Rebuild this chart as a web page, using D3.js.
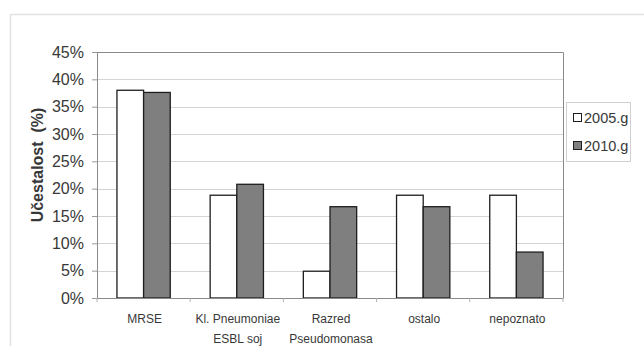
<!DOCTYPE html>
<html><head><meta charset="utf-8">
<script src="https://cdn.jsdelivr.net/npm/d3@7"></script>
<style>body{margin:0;background:#fff}svg{display:block}</style>
</head><body>
<script>
const categories = [["MRSE"], ["Kl. Pneumoniae", "ESBL soj"], ["Razred", "Pseudomonasa"], ["ostalo"], ["nepoznato"]];
const series = ["2005.g", "2010.g"];
const values2005 = [38.0, 18.8, 4.9, 18.8, 18.8];
const values2010 = [37.6, 20.8, 16.7, 16.7, 8.4];
const yTicks = [0, 5, 10, 15, 20, 25, 30, 35, 40, 45];
const colors = ["#ffffff", "#7f7f7f"];

const W = 644, H = 346;
const m = {left: 97, top: 52, right: 563, bottom: 298};
const svg = d3.select("body").append("svg").attr("width", W).attr("height", H);
const font = "'Liberation Sans', Arial, sans-serif";

// outer chart border
svg.append("rect").attr("x", 10.5).attr("y", 14.5).attr("width", 640).attr("height", 340)
  .attr("fill", "none").attr("stroke", "#e2e2e2").attr("stroke-width", 1.5);

const x = d3.scaleBand().domain(d3.range(categories.length)).range([m.left, m.right]).paddingInner(0).paddingOuter(0);
const y = d3.scaleLinear().domain([0, 45]).range([m.bottom, m.top]);
const groupW = x.bandwidth() * 0.572;
const x1 = d3.scaleBand().domain(d3.range(series.length)).range([0, groupW]);

// gridlines
svg.append("g").selectAll("line").data(yTicks.slice(1)).join("line")
  .attr("x1", m.left).attr("x2", m.right)
  .attr("y1", d => Math.round(y(d)) + 0.5).attr("y2", d => Math.round(y(d)) + 0.5)
  .attr("stroke", "#d4d4d4").attr("stroke-width", 1);

// y axis
const yAxis = d3.axisLeft(y).tickValues(yTicks).tickFormat(d => d + "%").tickSize(5).tickPadding(8);
const gy = svg.append("g").attr("transform", `translate(${m.left},0)`).call(yAxis);
gy.select(".domain").attr("stroke", "#8a8a8a");
gy.selectAll(".tick line").attr("stroke", "#9a9a9a");
gy.selectAll("text").attr("font-family", font).attr("font-size", 16).attr("fill", "#383838");

// plot frame (top and right)
svg.append("path").attr("d", `M${m.left},${m.top + 0.5}H${m.right + 0.5}V${m.bottom}`)
  .attr("fill", "none").attr("stroke", "#8a8a8a");

// bars
const data = categories.map((c, i) => [values2005[i], values2010[i]]);
const groups = svg.append("g").selectAll("g").data(data).join("g")
  .attr("transform", (d, i) => `translate(${x(i) + (x.bandwidth() - groupW) / 2},0)`);
groups.selectAll("rect").data(d => d.map((v, j) => ({v, j}))).join("rect")
  .attr("x", d => x1(d.j)).attr("width", x1.bandwidth())
  .attr("y", d => y(d.v)).attr("height", d => y(0) - y(d.v))
  .attr("fill", d => colors[d.j]).attr("stroke", "#1e1e1e").attr("stroke-width", 1.3);

// x axis
const xAxis = d3.axisBottom(x).tickSize(0).tickFormat("");
const gx = svg.append("g").attr("transform", `translate(0,${m.bottom})`).call(xAxis);
gx.select(".domain").attr("stroke", "#8a8a8a");
svg.append("g").selectAll("line").data(d3.range(categories.length + 1)).join("line")
  .attr("x1", i => m.left + i * x.bandwidth()).attr("x2", i => m.left + i * x.bandwidth())
  .attr("y1", m.bottom).attr("y2", m.bottom + 4).attr("stroke", "#b0b0b0");

const labels = svg.append("g").selectAll("text").data(categories).join("text")
  .attr("x", (d, i) => x(i) + x.bandwidth() / 2 + 1).attr("y", 323)
  .attr("text-anchor", "middle").attr("font-family", font).attr("font-size", 12).attr("fill", "#383838");
labels.each(function(d) {
  const t = d3.select(this);
  d.forEach((line, k) => {
    t.append("tspan").attr("x", t.attr("x")).attr("dy", k === 0 ? 0 : 20).text(line);
  });
});

// y title
svg.append("text").attr("transform", `translate(43,${(m.top + m.bottom) / 2 - 10}) rotate(-90)`)
  .attr("text-anchor", "middle").attr("font-family", font).attr("font-size", 16).attr("font-weight", "bold")
  .attr("fill", "#383838").style("white-space", "pre").text("Učestalost  (%)");

// legend
const lg = svg.append("g").attr("transform", "translate(566,102)");
lg.append("rect").attr("x", 0.5).attr("y", 0.5).attr("width", 64).attr("height", 59)
  .attr("fill", "#fff").attr("stroke", "#d0d0d0");
const li = lg.selectAll("g.item").data(series).join("g").attr("class", "item")
  .attr("transform", (d, i) => `translate(7,${16 + i * 28})`);
li.append("rect").attr("x", 0.5).attr("y", -4.5).attr("width", 8).attr("height", 8)
  .attr("fill", (d, i) => colors[i]).attr("stroke", "#1e1e1e");
li.append("text").attr("x", 11).attr("y", 5).attr("font-family", font).attr("font-size", 14.5)
  .attr("fill", "#383838").text(d => d);
</script>
</body></html>
